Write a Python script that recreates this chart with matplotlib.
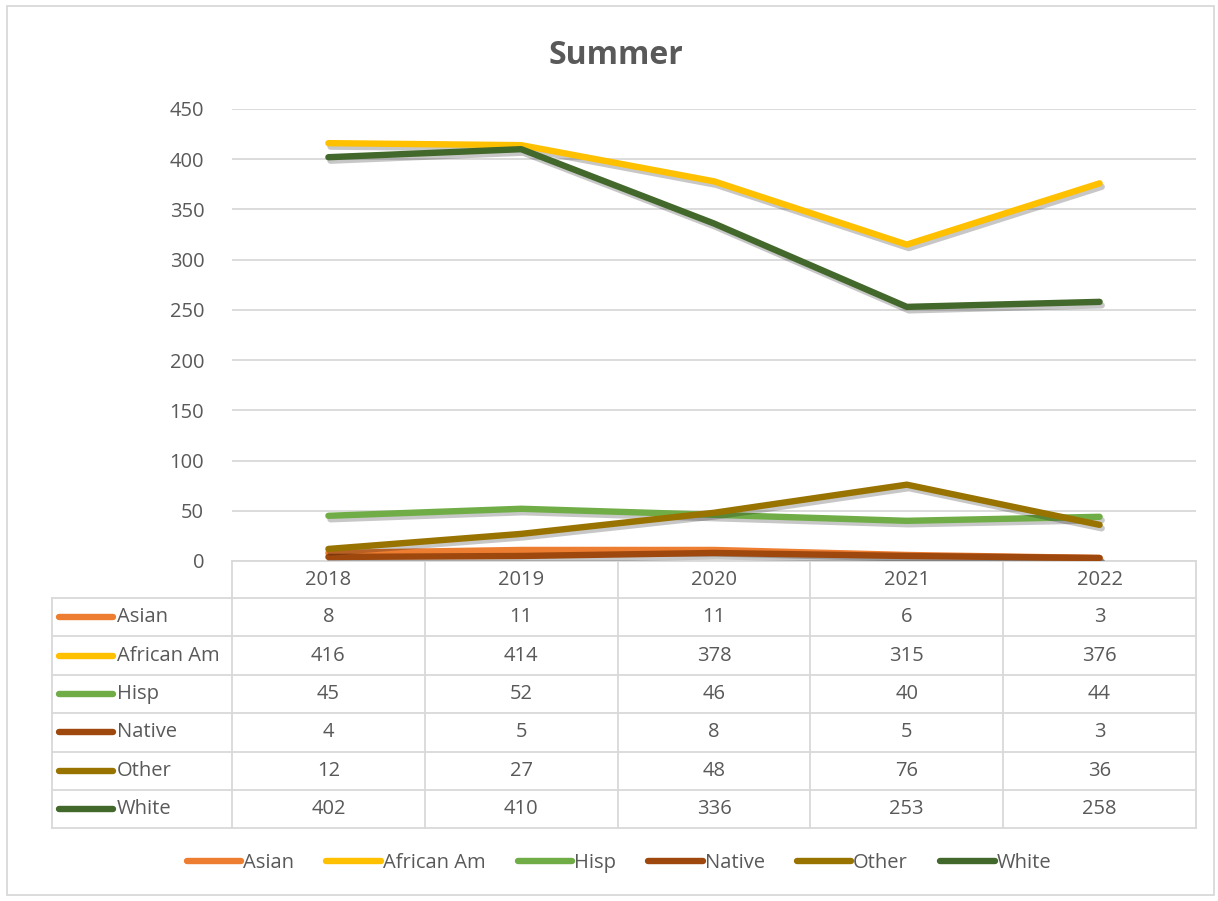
import matplotlib.pyplot as plt
import matplotlib.patheffects as pe
from matplotlib.lines import Line2D
from matplotlib.patches import Rectangle

plt.rcParams['font.family'] = ['Open Sans', 'DejaVu Sans']

years = ['2018', '2019', '2020', '2021', '2022']
series = ['Asian', 'African Am', 'Hisp', 'Native', 'Other', 'White']
asian = [8, 11, 11, 6, 3]
african_am = [416, 414, 378, 315, 376]
hisp = [45, 52, 46, 40, 44]
native = [4, 5, 8, 5, 3]
other = [12, 27, 48, 76, 36]
white = [402, 410, 336, 253, 258]
values = [asian, african_am, hisp, native, other, white]
colors = ['#ED7D31', '#FFC000', '#70AD47', '#9E480E', '#997300', '#43682B']

W, H = 1218, 901
txt = '#595959'
grid = '#D9D9D9'
fs = 14.5

fig = plt.figure(figsize=(W / 100, H / 100), dpi=100)

# pixel overlay for the frame and the data table
ov = fig.add_axes([0, 0, 1, 1])
ov.set_xlim(0, W)
ov.set_ylim(H, 0)
ov.axis('off')
ov.add_patch(Rectangle((7, 6), 1207, 889, fill=False, ec=grid, lw=1.3))

# plot area
x0, x1, ytop, ybot = 232, 1196, 109, 561
ax = fig.add_axes([x0 / W, 1 - ybot / H, (x1 - x0) / W, (ybot - ytop) / H])
ax.set_xlim(-0.5, len(years) - 0.5)
ax.set_ylim(0, 450)
ax.set_yticks(range(0, 451, 50))
ax.set_xticks([])
ax.grid(axis='y', color=grid, lw=1.3)
ax.set_axisbelow(True)
for s in ax.spines.values():
    s.set_visible(False)
ax.tick_params(axis='y', length=0, labelsize=fs, labelcolor=txt, pad=20)
ax.patch.set_alpha(0)

shadow = [pe.SimpleLineShadow(offset=(1.5, -2.5), shadow_color='black', alpha=0.22), pe.Normal()]
for name, vals, c in zip(series, values, colors):
    ax.plot(range(len(years)), vals, color=c, lw=4.6, solid_capstyle='round',
            solid_joinstyle='round', label=name, path_effects=shadow)

fig.text(616 / W, 1 - 55 / H, 'Summer', ha='center', va='center', fontsize=23,
         fontweight='bold', color=txt)

# data table
colw = (x1 - x0) / len(years)
row_top = 598
rowh = 38.4
tl = 52
lw = 1.3
ov.plot([x0, x1], [ybot, ybot], color=grid, lw=lw)
for i in range(len(years) + 1):
    xx = x0 + i * colw
    ov.plot([xx, xx], [ybot, row_top + rowh * len(series)], color=grid, lw=lw)
ov.plot([tl, tl], [row_top, row_top + rowh * len(series)], color=grid, lw=lw)
for r in range(len(series) + 1):
    yy = row_top + r * rowh
    ov.plot([tl, x1], [yy, yy], color=grid, lw=lw)
for i, yr in enumerate(years):
    ov.text(x0 + (i + 0.5) * colw, ybot + rowh / 2, yr, ha='center', va='center',
            fontsize=fs, color=txt)
for r, (name, vals, c) in enumerate(zip(series, values, colors)):
    yc = row_top + (r + 0.5) * rowh
    ov.plot([59, 113], [yc, yc], color=c, lw=4.6, solid_capstyle='round')
    ov.text(117, yc, name, ha='left', va='center', fontsize=fs, color=txt)
    for i, v in enumerate(vals):
        ov.text(x0 + (i + 0.5) * colw, yc, str(v), ha='center', va='center',
                fontsize=fs, color=txt)

# legend
handles = [Line2D([], [], color=c, lw=4.6, solid_capstyle='round') for c in colors]
leg = fig.legend(handles, series, loc='center', bbox_to_anchor=(619 / W, 1 - 863 / H), ncol=6,
                 frameon=False, handlelength=2.7, handletextpad=0.1, columnspacing=1.6,
                 fontsize=fs)
for t in leg.get_texts():
    t.set_color(txt)

fig.savefig('out.png', dpi=100)
